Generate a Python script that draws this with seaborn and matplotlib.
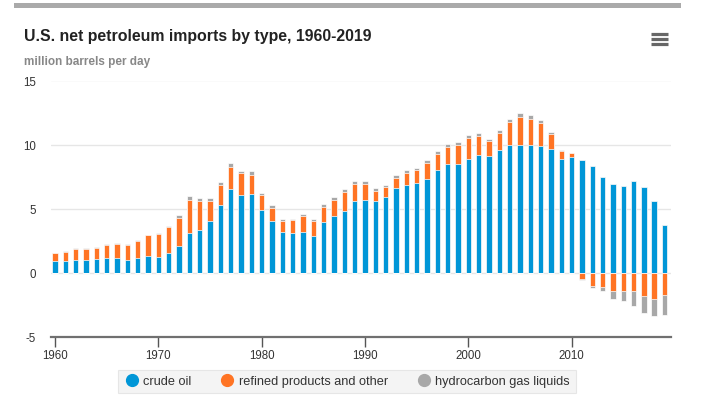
import matplotlib
matplotlib.use('Agg')
import matplotlib.pyplot as plt
from matplotlib.lines import Line2D
from matplotlib.patches import Rectangle
import numpy as np
import pandas as pd
import seaborn as sns

# data (million barrels per day)
years = list(range(1960, 2020))
crude_oil = [0.94, 0.94, 1.01, 1.01, 1.09, 1.17, 1.17, 1.01, 1.17, 1.32,
             1.25, 1.58, 2.13, 3.14, 3.38, 4.03, 5.27, 6.52, 6.10, 6.18,
             4.94, 4.08, 3.19, 3.12, 3.19, 2.91, 3.97, 4.44, 4.83, 5.61,
             5.71, 5.64, 5.95, 6.62, 6.88, 7.04, 7.35, 8.05, 8.49, 8.49,
             8.91, 9.22, 9.08, 9.58, 10.00, 10.00, 10.00, 9.90, 9.69, 8.91,
             9.06, 8.81, 8.36, 7.48, 6.94, 6.78, 7.17, 6.70, 5.61, 3.74]
refined_products = [0.60, 0.70, 0.87, 0.87, 0.86, 1.04, 1.10, 1.18, 1.33, 1.60,
                    1.79, 2.01, 2.18, 2.57, 2.23, 1.58, 1.59, 1.74, 1.69, 1.46,
                    1.16, 0.98, 0.86, 0.98, 1.25, 1.14, 1.17, 1.27, 1.48, 1.33,
                    1.23, 0.75, 0.75, 0.78, 0.91, 1.01, 1.25, 1.25, 1.33, 1.51,
                    1.64, 1.43, 1.22, 1.36, 1.77, 2.18, 2.03, 1.81, 1.14, 0.62,
                    0.32, -0.44, -1.01, -1.14, -1.38, -1.45, -1.45, -1.84, -2.00, -1.71]
gas_liquids = [0.04, 0.04, 0.04, 0.04, 0.04, 0.04, 0.04, 0.04, 0.05, 0.05,
               0.05, 0.06, 0.18, 0.26, 0.21, 0.21, 0.20, 0.29, 0.13, 0.28,
               0.16, 0.26, 0.18, 0.13, 0.18, 0.18, 0.26, 0.19, 0.21, 0.20,
               0.20, 0.21, 0.18, 0.21, 0.21, 0.11, 0.18, 0.18, 0.21, 0.18,
               0.18, 0.23, 0.17, 0.23, 0.26, 0.31, 0.31, 0.24, 0.18, 0.08,
               0.00, -0.13, -0.16, -0.26, -0.65, -0.78, -1.10, -1.25, -1.40, -1.54]
series_names = ['crude oil', 'refined products and other', 'hydrocarbon gas liquids']
colors = ['#0096d7', '#ff7424', '#a8a8a8']

df = pd.DataFrame({'year': years, 'crude': crude_oil,
                   'refined': refined_products, 'hgl': gas_liquids})
# stacked levels (positive stack upward, negative stack downward)
rp = df['refined'].clip(lower=0)
hp = df['hgl'].clip(lower=0)
rn = df['refined'].clip(upper=0)
hn = df['hgl'].clip(upper=0)
df['pos_gray'] = df['crude'] + rp + hp
df['pos_orange'] = df['crude'] + rp
df['neg_gray'] = rn + hn
df['neg_orange'] = rn

sns.set_style('white')
plt.rcParams['font.family'] = ['Liberation Sans', 'DejaVu Sans']
plt.rcParams['axes.unicode_minus'] = False

fig = plt.figure(figsize=(7.10, 4.06), dpi=100)
W, H = 710, 406
ax = fig.add_axes([51 / W, (H - 338) / H, (670.7 - 51) / W, (338 - 81.5) / H])

for ycol, c in [('pos_gray', colors[2]), ('pos_orange', colors[1]), ('crude', colors[0]),
                ('neg_gray', colors[2]), ('neg_orange', colors[1])]:
    sns.barplot(data=df, x='year', y=ycol, native_scale=True, width=0.52,
                color=c, saturation=1, edgecolor='white', linewidth=0.5,
                errorbar=None, ax=ax, zorder=3)

ax.set_xlim(1959.6, 2019.6)
ax.set_ylim(-5, 15)
ax.set_xlabel('')
ax.set_ylabel('')
ax.set_yticks([-5, 0, 5, 10, 15])
ax.set_xticks([1960, 1970, 1980, 1990, 2000, 2010])
ax.set_xticklabels(['1960', '1970', '1980', '1990', '2000', '2010'])
for yv in [0, 5, 10, 15]:
    ax.axhline(yv, color='#e6e6e6', linewidth=1, zorder=1)
for s in ['top', 'right', 'left']:
    ax.spines[s].set_visible(False)
ax.spines['bottom'].set_color('#707070')
ax.spines['bottom'].set_linewidth(1.6)
ax.tick_params(axis='x', length=7, width=1, color='#555555', labelsize=8.3,
               labelcolor='#333333', pad=2, direction='out', bottom=True)
ax.tick_params(axis='y', length=0, labelsize=8.3, labelcolor='#333333', pad=11)

# header
fig.patches.append(Rectangle((14 / W, 1 - 8.5 / H), (681 - 14) / W, 4.5 / H,
                             transform=fig.transFigure, color='#aaaaaa', lw=0))
fig.text(24 / W, 1 - 37 / H, 'U.S. net petroleum imports by type, 1960-2019',
         fontsize=11.45, fontweight='bold', color='#222222', va='center', ha='left')
fig.text(24 / W, 1 - 62 / H, 'million barrels per day', fontsize=8.5,
         fontweight='bold', color='#888888', va='center', ha='left')
for yy in [35, 40.3, 45.3]:
    fig.add_artist(Line2D([651 / W, 668 / W], [1 - yy / H, 1 - yy / H],
                          transform=fig.transFigure, color='#666666', lw=2.3,
                          solid_capstyle='butt'))

# legend
handles = [Line2D([], [], marker='o', linestyle='', markersize=8.5,
                  markerfacecolor=c, markeredgecolor=c) for c in colors]
leg = fig.legend(handles, series_names, loc='center', bbox_to_anchor=(347 / W, 1 - 382.5 / H),
                 ncol=3, frameon=True, fontsize=9.2, handletextpad=0.3, columnspacing=2.2,
                 borderpad=0.45, handlelength=1.2, fancybox=False)
leg.get_frame().set_facecolor('#f2f2f2')
leg.get_frame().set_edgecolor('#e2e2e2')
leg.get_frame().set_linewidth(0.8)
for t in leg.get_texts():
    t.set_color('#333333')

fig.savefig('out.png', dpi=100)
